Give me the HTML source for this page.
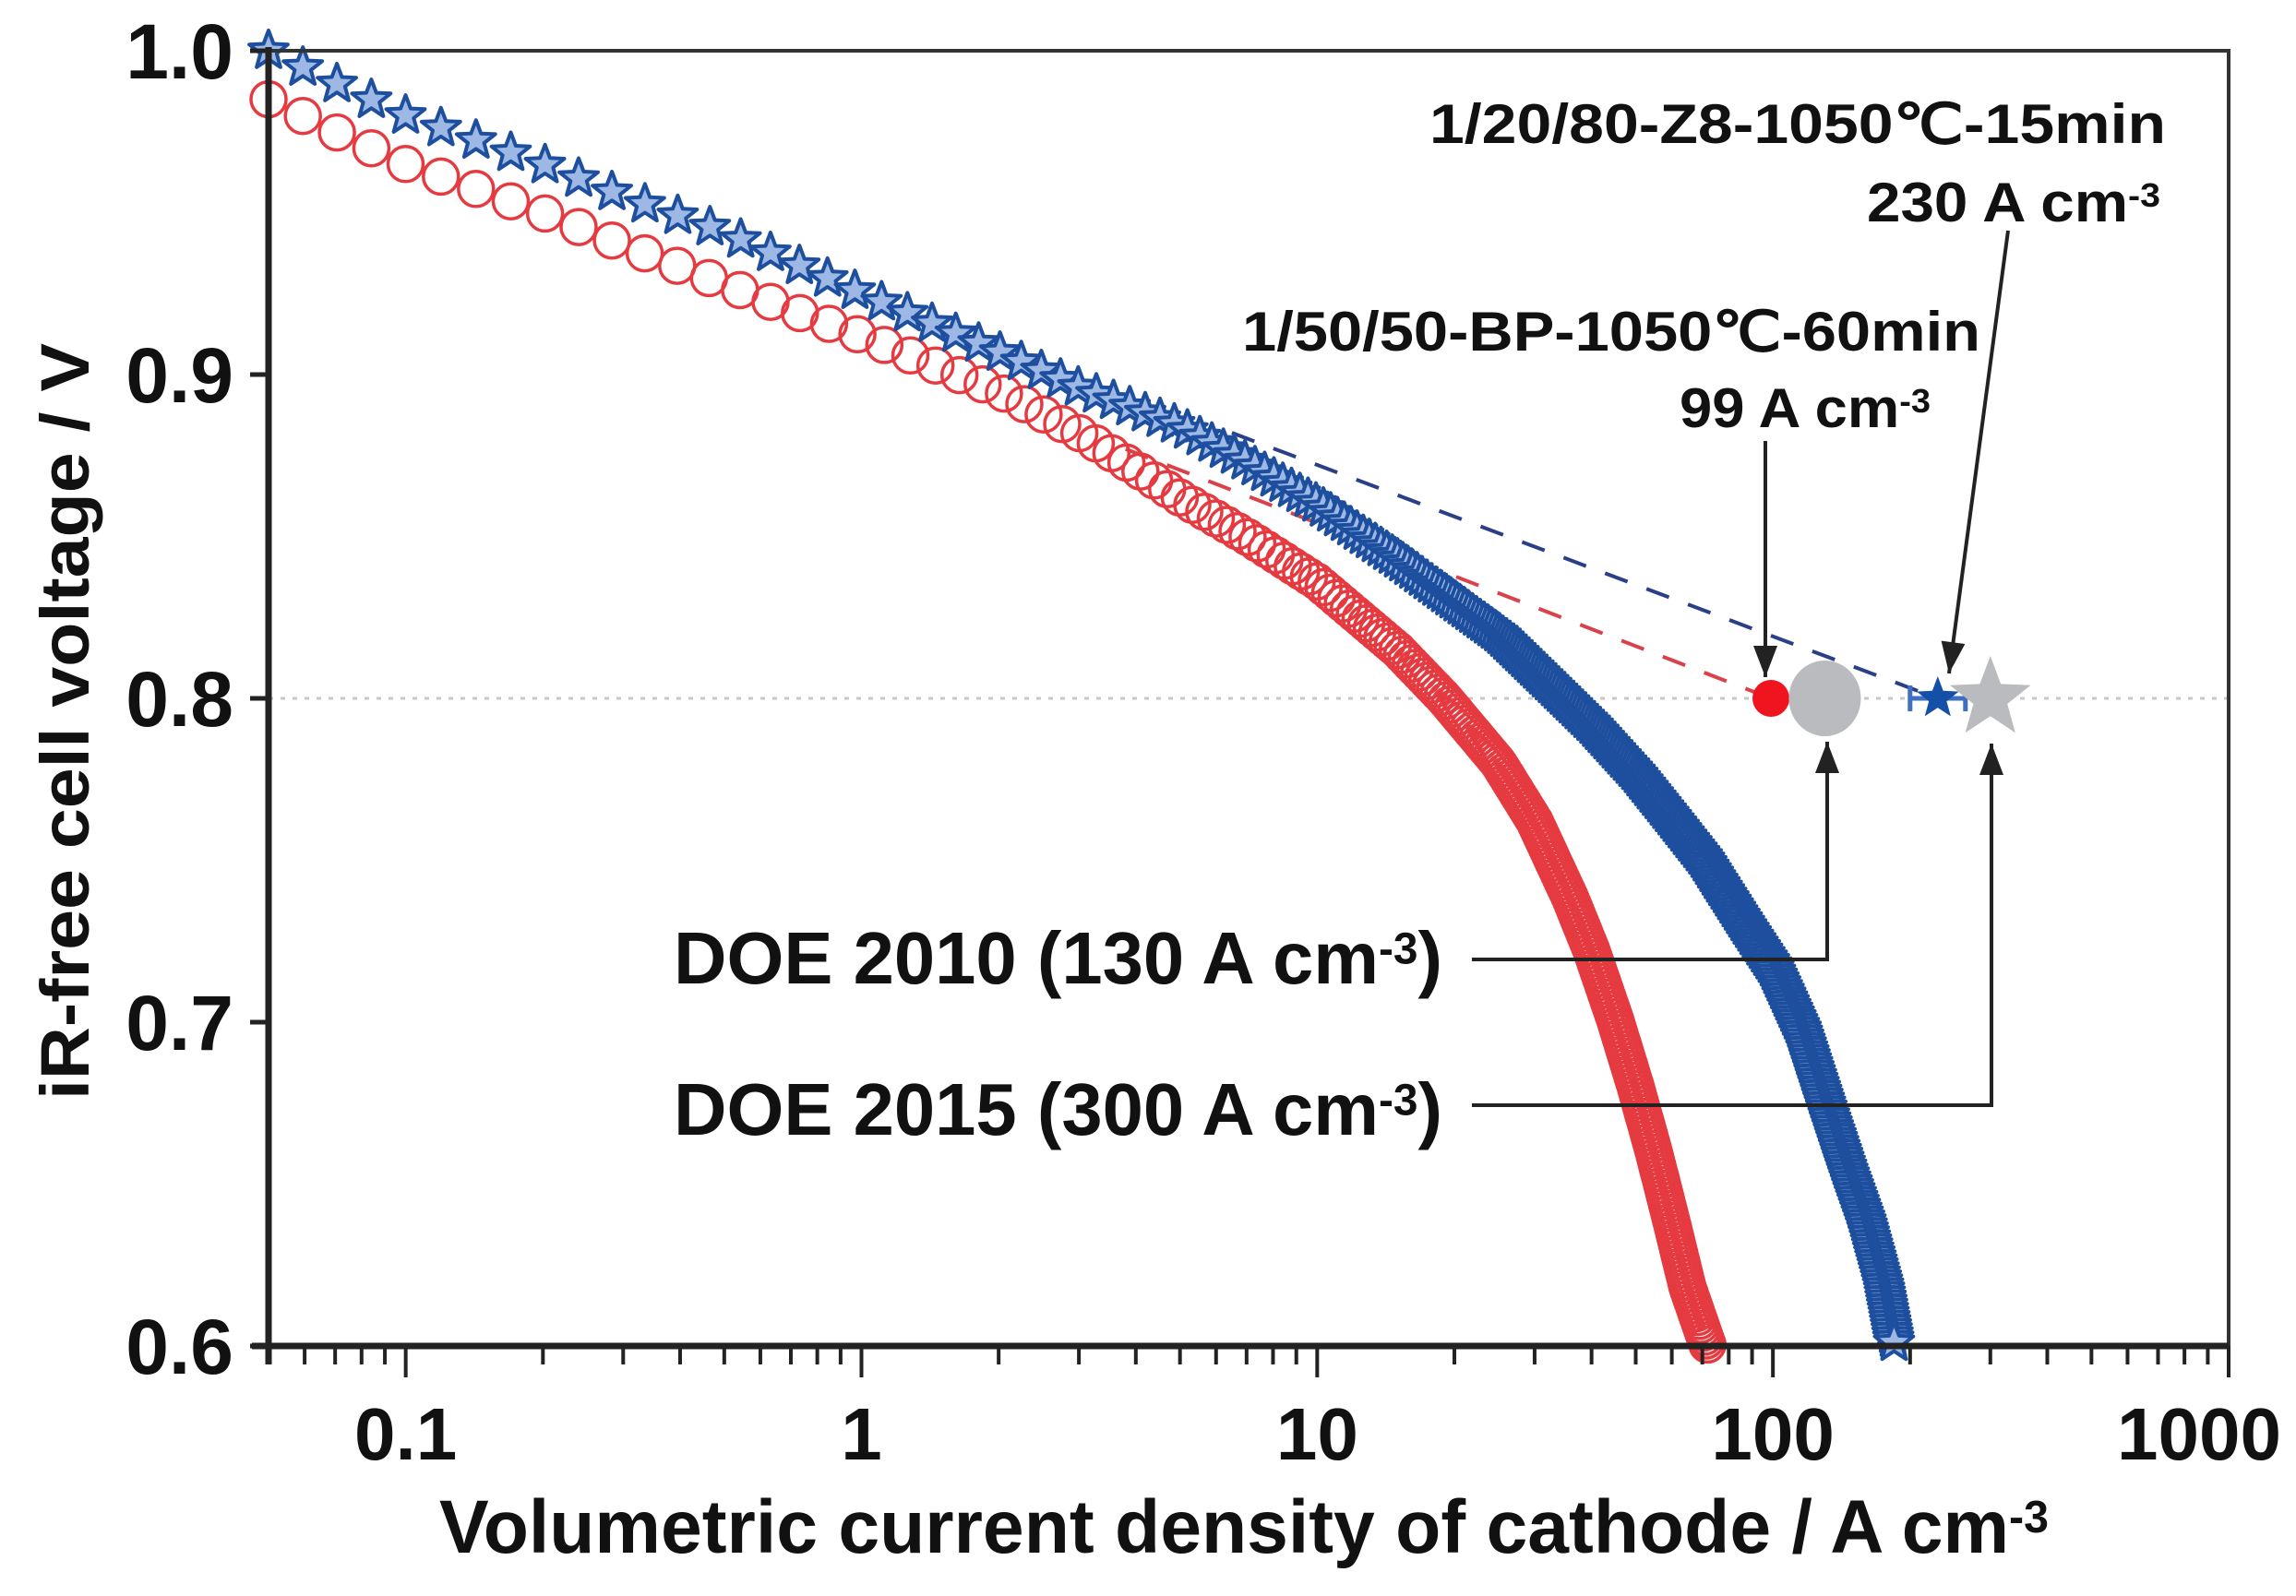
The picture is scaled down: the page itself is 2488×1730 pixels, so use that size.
<!DOCTYPE html>
<html><head><meta charset="utf-8"><style>
html,body{margin:0;padding:0;background:#fff;}
svg{display:block;}
.t{font-family:"Liberation Sans Narrow","Liberation Sans",sans-serif;font-weight:bold;fill:#111;}
</style></head><body>
<svg id="chart" width="2488" height="1730" viewBox="0 0 2488 1730" xmlns="http://www.w3.org/2000/svg">
<g id="plot"></g>
<g id="axes"></g>
<g id="annot"></g>
</svg>
<script>
const redX = [0.05,0.07,0.1,0.2,0.3,0.5,0.7,1,1.5,2,3,4,5,7,10,15,19,25,30,36,40,45,50,55,60,65,72];
const redV = [0.985,0.975,0.965,0.95,0.94,0.928,0.92,0.912,0.902,0.895,0.882,0.871,0.862,0.85,0.836,0.815,0.8,0.78,0.762,0.738,0.722,0.701,0.68,0.659,0.638,0.618,0.6];
const blueX = [0.05,0.07,0.1,0.2,0.3,0.5,1,2,3,5,7,10,15,20,25,35,40,50,60,70,87,100,115,130,145,160,175,185];
const blueV = [1.0,0.99,0.98,0.965,0.955,0.944,0.925,0.907,0.896,0.884,0.873,0.86,0.843,0.83,0.82,0.8,0.792,0.777,0.763,0.751,0.73,0.717,0.698,0.675,0.655,0.638,0.618,0.6];
const redDashX = [3.8,99];
const redDashV = [0.877,0.8];
const blueDashX = [6.5,230];
const blueDashV = [0.882,0.8];
const targetX = [99,130,230,300];
const targetV = [0.8,0.8,0.8,0.8];
const xTicks = [0.1,1,10,100,1000];
const xTickLabels = ["0.1","1","10","100","1000"];
const yTicks = [0.6,0.7,0.8,0.9,1.0];
const yTickLabels = ["0.6","0.7","0.8","0.9","1.0"];

const L=291,R=2415,T=55,B=1459;
const xmin=Math.log10(0.05),xmax=3;
function xs(v){return L+(Math.log10(v)-xmin)/(xmax-xmin)*(R-L);}
function ys(v){return B-(v-0.6)/0.4*(B-T);}
const NS="http://www.w3.org/2000/svg";
function mk(tag,attrs,parent){const e=document.createElementNS(NS,tag);for(const k in attrs)e.setAttribute(k,attrs[k]);parent.appendChild(e);return e;}
const plot=document.getElementById('plot'),axes=document.getElementById('axes'),annot=document.getElementById('annot');

function starPts(cx,cy,r){let p=[];for(let i=0;i<10;i++){const a=-Math.PI/2+i*Math.PI/5;const rr=i%2?r*0.42:r;p.push((cx+rr*Math.cos(a)).toFixed(1)+","+(cy+rr*Math.sin(a)).toFixed(1));}return p.join(" ");}

let ref=mk('line',{x1:L,x2:R,y1:ys(0.8),y2:ys(0.8),stroke:'#c8c8c8','stroke-width':3,'stroke-dasharray':'5 8'},plot);



let rd=mk('line',{x1:xs(redDashX[0]),y1:ys(redDashV[0]),x2:xs(redDashX[1]),y2:ys(redDashV[1]),stroke:'#d9424a','stroke-width':4,'stroke-dasharray':'26 22'},plot);


let bd=mk('line',{x1:xs(blueDashX[0]),y1:ys(blueDashV[0]),x2:xs(blueDashX[1]),y2:ys(blueDashV[1]),stroke:'#2a3f86','stroke-width':4,'stroke-dasharray':'26 22'},plot);



function sampleMarkers(X,V){
  const pts=X.map((x,i)=>[xs(x),ys(V[i]),x]);
  const out=[[pts[0][0],pts[0][1]]];
  let acc=0;
  for(let i=1;i<pts.length;i++){
    const [x0,y0,c0]=pts[i-1],[x1,y1,c1]=pts[i];
    const seg=Math.hypot(x1-x0,y1-y0);
    let t=0;
    while(true){
      const c=c0+(c1-c0)*t;
      const step=Math.max(4.5,42/(1+c/3));
      const need=step-acc;
      const dt=need/seg;
      if(t+dt>1){acc+=seg*(1-t);break;}
      t+=dt;acc=0;
      out.push([x0+(x1-x0)*t,y0+(y1-y0)*t]);
    }
  }
  return out;
}
const redG=mk('g',{},plot);


sampleMarkers(redX,redV).forEach(p=>{
  const c=mk('circle',{cx:p[0].toFixed(1),cy:p[1].toFixed(1),r:19,fill:'none',stroke:'#e53a40','stroke-width':3.5},redG);
  
  
});
const blueG=mk('g',{},plot);


sampleMarkers(blueX,blueV).forEach(p=>{
  const s=mk('polygon',{points:starPts(p[0],p[1],22),fill:'#9db8e4',stroke:'#1d4f9e','stroke-width':4,'stroke-linejoin':'round'},blueG);
  
  
});

let m1=mk('circle',{cx:xs(targetX[0]),cy:ys(targetV[0]),r:20,fill:'#f0141e'},plot);


let m2=mk('ellipse',{cx:xs(targetX[1]),cy:ys(targetV[1]),rx:39,ry:41,fill:'#b9bbbe'},plot);


let m3eb=mk('path',{d:`M${xs(targetX[2])-30},${ys(0.8)}H${xs(targetX[2])+30}M${xs(targetX[2])-30},${ys(0.8)-14}v28M${xs(targetX[2])+30},${ys(0.8)-14}v28`,stroke:'#3f6fc0','stroke-width':5,fill:'none'},plot);


let m3=mk('polygon',{points:starPts(xs(targetX[2]),ys(targetV[2]),24),fill:'#1550a8'},plot);


let m4=mk('polygon',{points:starPts(xs(targetX[3]),ys(targetV[3]),46),fill:'#b9bbbe'},plot);



let fr=mk('path',{d:`M${L},${T}H${R}V${B}`,stroke:'#333','stroke-width':4,fill:'none'},axes);


let xa=mk('line',{x1:L-18,x2:R,y1:B,y2:B,stroke:'#222','stroke-width':7},axes);


let ya=mk('line',{x1:L,x2:L,y1:T-4,y2:B+20,stroke:'#222','stroke-width':7},axes);



for(let d=-2;d<=2;d++){for(let k=1;k<=9;k++){const v=k*Math.pow(10,d);if(v<0.05||v>1000)continue;const x=xs(v);
  const len=k===1?34:20;
  const t=mk('line',{x1:x,x2:x,y1:B,y2:B+len,stroke:'#222','stroke-width':4},axes);
  
  }}
{const t=mk('line',{x1:R,x2:R,y1:B,y2:B+34,stroke:'#222','stroke-width':4},axes);}
xTicks.forEach((v,i)=>{
  const t=mk('text',{x:xs(v)-(i===4?32:0),y:1582,'text-anchor':'middle','font-size':80,class:'t'},axes);
  t.textContent=xTickLabels[i];
  
  
});
yTicks.forEach((v,i)=>{
  const tk=mk('line',{x1:L-20,x2:L,y1:ys(v),y2:ys(v),stroke:'#222','stroke-width':5},axes);
  
  
  const t=mk('text',{x:253,y:ys(v)+30,'text-anchor':'end','font-size':84,class:'t'},axes);
  t.textContent=yTickLabels[i];
  
  
});
</script>
<script>
(function(){
const NS="http://www.w3.org/2000/svg";
const annot=document.getElementById('annot');
function mk(tag,attrs,parent){const e=document.createElementNS(NS,tag);for(const k in attrs)e.setAttribute(k,attrs[k]);parent.appendChild(e);return e;}
function txt(x,y,size,anchor,len,html,name){
  const t=mk('text',{x:x,y:y,'font-size':size,'text-anchor':anchor,class:'t',textLength:len,lengthAdjust:'spacingAndGlyphs'},annot);
  t.innerHTML=html;
  
  
  return t;
}
const sup='<tspan dy="-0.45em" font-size="0.6em">-3</tspan>';
txt(1549,155,60,'start',798,'1/20/80-Z8-1050℃-15min','z8-sample-label');
txt(2023,240,60,'start',318,'230 A cm'+sup,'z8-value-label');
txt(1346,380,60,'start',800,'1/50/50-BP-1050℃-60min','bp-sample-label');
txt(1820,463,60,'start',272,'99 A cm'+sup,'bp-value-label');
txt(730,1066,80,'start',833,'DOE 2010 (130 A cm'+sup+'<tspan dy="0.27em">)</tspan>','doe-2010-label');
txt(730,1230,80,'start',833,'DOE 2015 (300 A cm'+sup+'<tspan dy="0.27em">)</tspan>','doe-2015-label');
txt(476,1683,82,'start',1744,'Volumetric current density of cathode / A cm'+sup,'x-axis-title');
const yt=mk('text',{x:0,y:0,'font-size':74,'text-anchor':'middle',transform:'translate(96,782) rotate(-90)',textLength:820,lengthAdjust:'spacingAndGlyphs',style:'font-family:"Liberation Sans",sans-serif;font-weight:bold;fill:#111'},annot);
yt.textContent='iR-free cell voltage / V';


function arrow(pts,name){
  const g=mk('g',{},annot);
  
  
  mk('polyline',{points:pts.map(p=>p.join(',')).join(' '),fill:'none',stroke:'#222','stroke-width':4},g);
  const [x1,y1]=pts[pts.length-2],[x2,y2]=pts[pts.length-1];
  const a=Math.atan2(y2-y1,x2-x1),L=34,W=13;
  const bx=x2-L*Math.cos(a),by=y2-L*Math.sin(a);
  mk('polygon',{points:`${x2},${y2} ${bx+W*Math.sin(a)},${by-W*Math.cos(a)} ${bx-W*Math.sin(a)},${by+W*Math.cos(a)}`,fill:'#222'},g);
}
arrow([[1913,478],[1913,734]],'bp-arrow');
arrow([[2176,250],[2112,730]],'z8-arrow');
arrow([[1595,1040],[1980,1040],[1980,804]],'doe-2010-arrow');
arrow([[1595,1198],[2158,1198],[2158,806]],'doe-2015-arrow');
})();
</script>
</body></html>
